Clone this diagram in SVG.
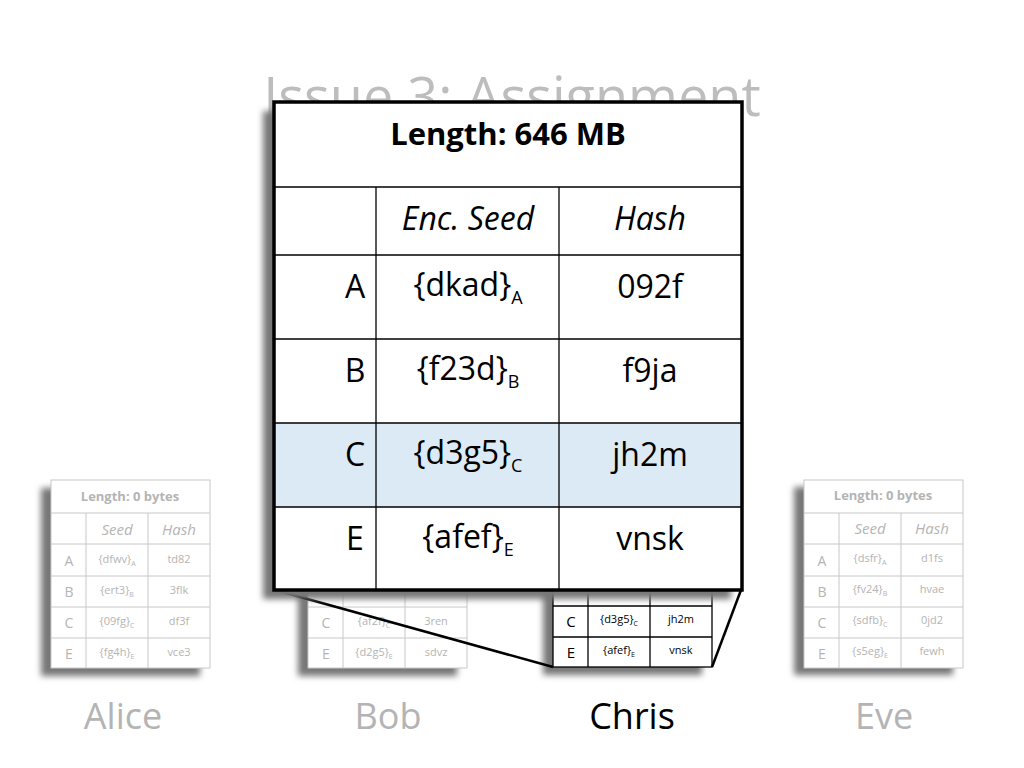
<svg xmlns="http://www.w3.org/2000/svg" width="1024" height="768" viewBox="0 0 1024 768">
<style>
text{font-family:"Open Sans","Liberation Sans",sans-serif;text-anchor:middle}
.g text{fill:#b4b4b4}
.k text{fill:#000}
.sh{fill:#777;filter:url(#bl)}
.name{font-size:36px;fill:#b4b4b4}
</style>
<defs>
<filter id="bl" x="-20%" y="-20%" width="140%" height="140%"><feGaussianBlur stdDeviation="3"/></filter>
<g id="grid" fill="none">
<rect x="0" y="0" width="159" height="188"/>
<line x1="0" y1="33" x2="159" y2="33"/><line x1="0" y1="64" x2="159" y2="64"/>
<line x1="0" y1="96" x2="159" y2="96"/><line x1="0" y1="127" x2="159" y2="127"/>
<line x1="0" y1="158" x2="159" y2="158"/>
<line x1="35" y1="33" x2="35" y2="188"/><line x1="97" y1="33" x2="97" y2="188"/>
</g>
</defs>
<rect width="1024" height="768" fill="#fff"/>
<text x="512" y="116" font-size="54" fill="#bdbdbd">Issue 3: Assignment</text>

<g id="alice" class="g" font-size="11">
<rect class="sh" x="41" y="488" width="159" height="188"/>
<rect x="51" y="480" width="159" height="188" fill="#fff"/>
<use href="#grid" x="51" y="480" stroke="#c8c8c8" stroke-width="1"/>
<text x="130" y="501" font-size="13" font-weight="bold">Length:  0 bytes</text>
<text x="117" y="535" font-size="15" font-style="italic">Seed</text><text x="179" y="535" font-size="15" font-style="italic">Hash</text>
<text x="69" y="566" font-size="14">A</text><text x="117" y="563">{dfwv}<tspan font-size="7" dy="3">A</tspan></text><text x="179" y="563">td82</text>
<text x="69" y="597" font-size="14">B</text><text x="117" y="594">{ert3}<tspan font-size="7" dy="3">B</tspan></text><text x="179" y="594">3flk</text>
<text x="69" y="628" font-size="14">C</text><text x="117" y="625">{09fg}<tspan font-size="7" dy="3">C</tspan></text><text x="179" y="625">df3f</text>
<text x="69" y="659" font-size="14">E</text><text x="117" y="656">{fg4h}<tspan font-size="7" dy="3">E</tspan></text><text x="179" y="656">vce3</text>
</g>

<g id="bob" class="g" font-size="11">
<rect class="sh" x="298" y="488" width="159" height="188"/>
<rect x="308" y="480" width="159" height="188" fill="#fff"/>
<use href="#grid" x="308" y="480" stroke="#c8c8c8" stroke-width="1"/>
<text x="326" y="628" font-size="14">C</text><text x="374" y="625">{af2f}<tspan font-size="7" dy="3">C</tspan></text><text x="436" y="625">3ren</text>
<text x="326" y="659" font-size="14">E</text><text x="374" y="656">{d2g5}<tspan font-size="7" dy="3">E</tspan></text><text x="436" y="656">sdvz</text>
</g>

<g id="eve" class="g" font-size="11">
<rect class="sh" x="794" y="487" width="159" height="188"/>
<rect x="804" y="480" width="159" height="188" fill="#fff"/>
<use href="#grid" x="804" y="480" stroke="#c8c8c8" stroke-width="1"/>
<text x="883" y="500" font-size="13" font-weight="bold">Length:  0 bytes</text>
<text x="870" y="534" font-size="15" font-style="italic">Seed</text><text x="932" y="534" font-size="15" font-style="italic">Hash</text>
<text x="822" y="566" font-size="14">A</text><text x="870" y="562">{dsfr}<tspan font-size="7" dy="3">A</tspan></text><text x="932" y="562">d1fs</text>
<text x="822" y="597" font-size="14">B</text><text x="870" y="593">{fv24}<tspan font-size="7" dy="3">B</tspan></text><text x="932" y="593">hvae</text>
<text x="822" y="628" font-size="14">C</text><text x="870" y="624">{sdfb}<tspan font-size="7" dy="3">C</tspan></text><text x="932" y="624">0jd2</text>
<text x="822" y="659" font-size="14">E</text><text x="870" y="655">{s5eg}<tspan font-size="7" dy="3">E</tspan></text><text x="932" y="655">fewh</text>
</g>

<g id="chris" class="k" font-size="11">
<rect class="sh" x="543" y="487" width="159" height="188"/>
<rect x="553" y="479" width="159" height="188" fill="#fff"/>
<use href="#grid" x="553" y="479" stroke="#000" stroke-width="1.3"/>
<text x="571" y="627" font-size="15">C</text><text x="619" y="623">{d3g5}<tspan font-size="7" dy="3">C</tspan></text><text x="681" y="623">jh2m</text>
<text x="571" y="658" font-size="15">E</text><text x="619" y="654">{afef}<tspan font-size="7" dy="3">E</tspan></text><text x="681" y="654">vnsk</text>
</g>

<g id="connectors" stroke="#000" stroke-width="2.5">
<line x1="275" y1="590" x2="553" y2="667"/>
<line x1="741" y1="590" x2="712" y2="667"/>
</g>

<g id="zoomed">
<rect class="sh" x="263" y="111" width="468" height="488"/>
<rect x="274" y="102" width="468" height="488" fill="#fff"/>
<rect x="274" y="423" width="468" height="84" fill="#dbeaf4"/>
<g stroke="#000" stroke-width="1.3">
<line x1="274" y1="187" x2="742" y2="187"/><line x1="274" y1="255" x2="742" y2="255"/>
<line x1="274" y1="339" x2="742" y2="339"/><line x1="274" y1="423" x2="742" y2="423"/>
<line x1="274" y1="507" x2="742" y2="507"/>
<line x1="376" y1="187" x2="376" y2="590"/><line x1="559" y1="187" x2="559" y2="590"/>
</g>
<rect x="274" y="102" width="468" height="488" fill="none" stroke="#000" stroke-width="3.5"/>
<g font-size="32" fill="#000">
<text x="508" y="145" font-weight="bold" font-size="31">Length: 646 MB</text>
<text x="468" y="230" font-style="italic">Enc. Seed</text><text x="650" y="230" font-style="italic">Hash</text>
<text x="355" y="298">A</text><text x="468" y="296">{dkad}<tspan font-size="18" dy="8">A</tspan></text><text x="650" y="298">092f</text>
<text x="355" y="382">B</text><text x="468" y="380">{f23d}<tspan font-size="18" dy="8">B</tspan></text><text x="650" y="382">f9ja</text>
<text x="355" y="466">C</text><text x="468" y="464">{d3g5}<tspan font-size="18" dy="8">C</tspan></text><text x="650" y="466">jh2m</text>
<text x="355" y="550">E</text><text x="468" y="548">{afef}<tspan font-size="18" dy="8">E</tspan></text><text x="650" y="550">vnsk</text>
</g>
</g>

<text class="name" x="123" y="729">Alice</text>
<text class="name" x="388" y="729">Bob</text>
<text x="632" y="729" font-size="36" fill="#000">Chris</text>
<text class="name" x="884" y="729">Eve</text>
</svg>
